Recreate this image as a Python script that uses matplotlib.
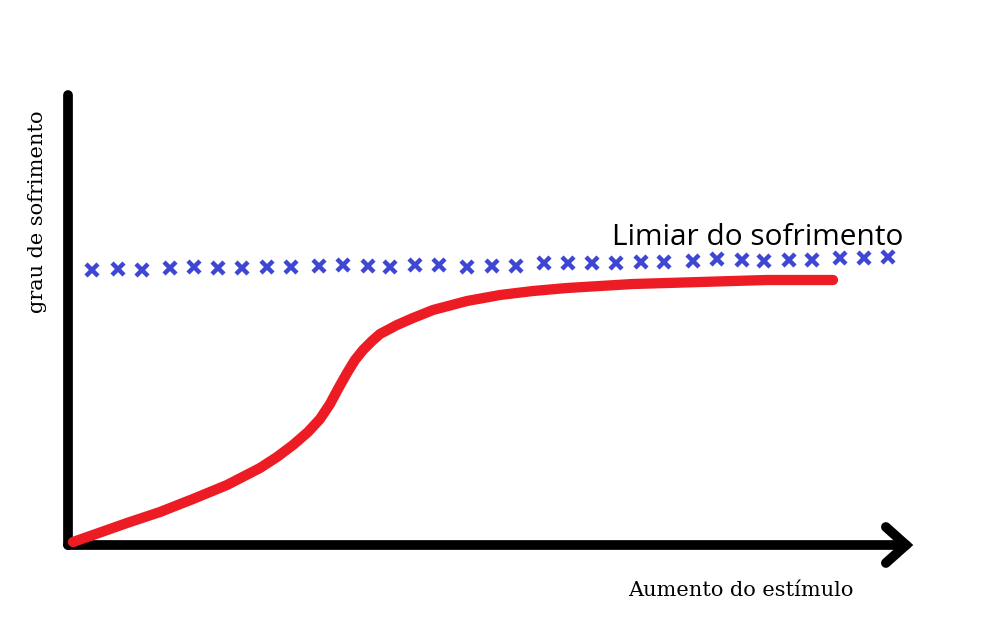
import matplotlib
matplotlib.use("Agg")
import matplotlib.pyplot as plt

# red curve: suffering vs stimulus (units measured from the origin)
curve_x = [5, 25, 59, 92, 125, 159, 192, 209, 225, 240, 252, 262, 270, 279,
           287, 295, 304, 312, 329, 345, 365, 399, 432, 465, 499, 532, 565,
           599, 632, 665, 699, 732, 765]
curve_y = [3, 10, 22, 33, 46, 60, 77, 88, 100, 113, 126, 141, 156, 172,
           185, 195, 204, 211, 220, 227, 235, 244, 250, 254, 257, 259, 261,
           262, 263, 264, 265, 265, 265]

# blue crosses: threshold of suffering
thresh_x = [24, 50, 74, 102, 126, 150, 174, 199, 223, 251, 275, 300, 322, 347,
            371, 399, 424, 448, 476, 500, 524, 548, 573, 596, 625, 649, 674,
            696, 721, 744, 772, 796, 820]
thresh_y = [275, 276, 275, 277, 278, 277, 277, 278, 278, 279, 280, 279, 278,
            280, 280, 278, 279, 279, 282, 282, 282, 282, 283, 283, 284, 286,
            285, 284, 285, 285, 287, 287, 288]

x_label = "Aumento do estímulo"
y_label = "grau de sofrimento"
thresh_label = "Limiar do sofrimento"

fig = plt.figure(figsize=(9.85, 6.42), dpi=100)
ax = fig.add_axes([68 / 985, 97 / 642, 838 / 985, 450 / 642])
ax.set_xlim(0, 838)
ax.set_ylim(0, 450)

for side in ["top", "right"]:
    ax.spines[side].set_visible(False)
for side in ["left", "bottom"]:
    ax.spines[side].set_linewidth(7)
    ax.spines[side].set_color("black")
    ax.spines[side].set_capstyle("round")
    ax.spines[side].set_zorder(1)
ax.set_xticks([])
ax.set_yticks([])
ax.patch.set_alpha(0)

# arrow head at the end of the x axis
ax.plot([0.976, 1.0, 0.976], [0.04, 0.0, -0.04], transform=ax.transAxes,
        color="black", lw=7, solid_capstyle="round", solid_joinstyle="miter",
        clip_on=False, zorder=1)

ax.plot(curve_x, curve_y, color="#ed1c24", lw=7.4, solid_capstyle="round",
        solid_joinstyle="round", clip_on=False, zorder=3)
ax.plot(thresh_x, thresh_y, ls="none", marker="x", ms=9, mew=3.2,
        color="#3d47d4", clip_on=False, zorder=2)

fig.text(612 / 985, 1 - 245 / 642, thresh_label, fontsize=21.5,
         family="Open Sans", ha="left", va="baseline")
fig.text(741 / 985, 1 - 591 / 642, x_label, fontsize=15,
         family="DejaVu Serif", ha="center", va="center")
fig.text(38 / 985, 1 - 212 / 642, y_label, fontsize=15, rotation=90,
         family="DejaVu Serif", ha="center", va="center")

fig.savefig("out.png", dpi=100, facecolor="white")
